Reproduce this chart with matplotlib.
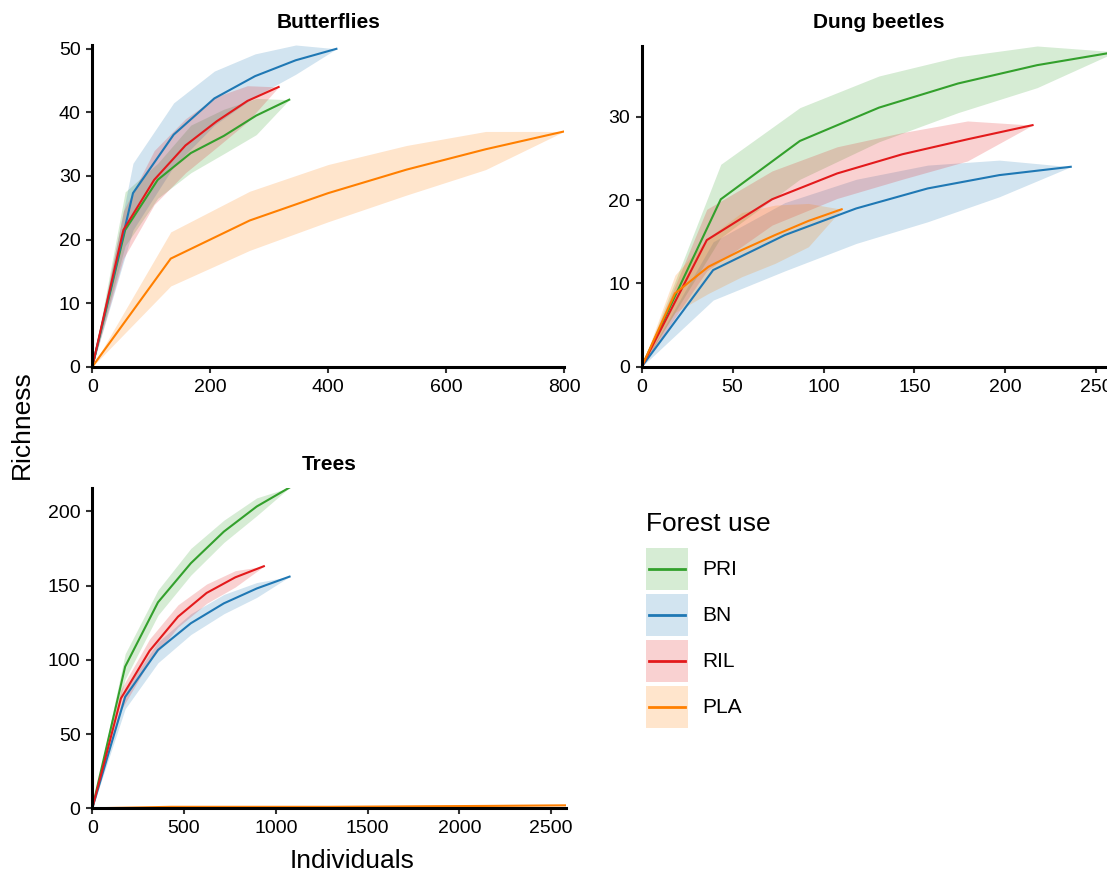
import matplotlib
matplotlib.use("Agg")
import matplotlib.pyplot as plt
from matplotlib.lines import Line2D
from matplotlib.patches import Rectangle

# Forest use classes and their colours
groups = ["PRI", "BN", "RIL", "PLA"]
colors = {"PRI": "#33A02C", "BN": "#1F78B4", "RIL": "#E31A1C", "PLA": "#FF7F00"}

# Butterflies: individuals, richness and 95% interval
bf_x = {
    "PRI": [0, 55.7, 111, 167, 223, 278, 334],
    "BN": [0, 69, 138, 207, 276, 345, 414],
    "RIL": [0, 52.7, 105, 158, 211, 263, 316],
    "PLA": [0, 133, 267, 400, 533, 667, 800],
}
bf_y = {
    "PRI": [0, 21.5, 29.4, 33.6, 36.3, 39.5, 42],
    "BN": [0, 27.3, 36.5, 42.2, 45.7, 48.2, 50],
    "RIL": [0, 21.5, 29.4, 34.8, 38.6, 41.8, 44],
    "PLA": [0, 17, 23, 27.3, 31, 34.2, 37],
}
bf_lo = {
    "PRI": [0, 19, 26.5, 30.5, 33.5, 36.5, 42],
    "BN": [0, 21.5, 31.5, 38, 42.5, 46, 50],
    "RIL": [0, 17, 25.5, 30.5, 34.5, 38.5, 44],
    "PLA": [0, 12.7, 18.3, 22.8, 27, 31, 37],
}
bf_hi = {
    "PRI": [0, 27.5, 32, 38, 40.5, 42.2, 42],
    "BN": [0, 32, 41.5, 46.5, 49.2, 50.6, 50],
    "RIL": [0, 24.5, 34, 39, 42.5, 44.2, 44],
    "PLA": [0, 21.2, 27.6, 31.8, 34.8, 37, 37],
}

# Dung beetles
db_x = {
    "PRI": [0, 43.5, 87, 130.5, 174, 217.5, 261],
    "BN": [0, 39.3, 78.7, 118, 157.3, 196.7, 236],
    "RIL": [0, 35.8, 71.7, 107.5, 143.3, 179.2, 215],
    "PLA": [0, 18.3, 36.7, 55, 73.3, 91.7, 110],
}
db_y = {
    "PRI": [0, 20.1, 27.1, 31.1, 34, 36.2, 37.8],
    "BN": [0, 11.6, 15.8, 19, 21.4, 23, 24],
    "RIL": [0, 15.2, 20.1, 23.2, 25.5, 27.3, 29],
    "PLA": [0, 8.8, 12, 14, 15.8, 17.5, 18.9],
}
db_lo = {
    "PRI": [0, 15.5, 22.5, 27, 30.5, 33.5, 37.8],
    "BN": [0, 8, 11.5, 14.8, 17.4, 20.4, 24],
    "RIL": [0, 11.5, 17, 20.2, 22.5, 24.7, 29],
    "PLA": [0, 6.5, 8.8, 10.8, 12.4, 14.4, 18.9],
}
db_hi = {
    "PRI": [0, 24.3, 31.1, 34.9, 37.2, 38.5, 37.8],
    "BN": [0, 15, 19.7, 22.5, 24.2, 24.8, 24],
    "RIL": [0, 18.9, 23.5, 26.4, 28.1, 29.5, 29],
    "PLA": [0, 11, 15.5, 18.5, 19.4, 19.6, 18.9],
}

# Trees
tr_x = {
    "PRI": [0, 179, 358, 537, 717, 896, 1075],
    "BN": [0, 179, 358, 537, 717, 896, 1075],
    "RIL": [0, 156, 312, 467, 623, 779, 935],
    "PLA": [0, 430, 860, 1290, 1720, 2150, 2580],
}
tr_y = {
    "PRI": [0, 95.4, 138.7, 165, 186.3, 203.2, 216],
    "BN": [0, 75, 106.6, 124.6, 138, 148, 156],
    "RIL": [0, 74, 106, 129, 145, 155.5, 163],
    "PLA": [0, 1, 1, 1, 1.3, 1.6, 2],
}
tr_lo = {
    "PRI": [0, 87, 130, 157, 179, 197, 216],
    "BN": [0, 67, 98, 117, 131, 142, 156],
    "RIL": [0, 66, 99, 122, 138, 149, 163],
    "PLA": [0, 0.5, 0.7, 0.8, 1, 1.2, 2],
}
tr_hi = {
    "PRI": [0, 104, 147, 175, 194, 209, 216],
    "BN": [0, 80, 112, 131, 144, 152, 156],
    "RIL": [0, 80, 114, 137, 151, 160, 163],
    "PLA": [0, 1.5, 1.5, 1.5, 2, 2.5, 2],
}

plt.rcParams["font.family"] = ["Liberation Sans", "DejaVu Sans"]

W, H = 1107, 877


class RibbonKey:
    # legend key: shaded box with a short line through its middle
    def legend_artist(self, legend, orig_handle, fontsize, handlebox):
        x0, y0 = -handlebox.xdescent, -handlebox.ydescent
        w, h = handlebox.width, handlebox.height
        tr = handlebox.get_transform()
        box = Rectangle((x0, y0), w, h, facecolor=orig_handle, alpha=0.2,
                        linewidth=0, transform=tr)
        line = Line2D([x0 + 0.07 * w, x0 + 0.93 * w], [y0 + h / 2, y0 + h / 2],
                      color=orig_handle, lw=2, transform=tr)
        handlebox.add_artist(box)
        handlebox.add_artist(line)
        return box


def px_axes(fig, left, top, right, bottom):
    # place an axes from pixel edges (origin top-left)
    return fig.add_axes([left / W, 1 - bottom / H, (right - left) / W, (bottom - top) / H])


def panel(ax, title, xs, ys, los, his, xlim, ylim, xticks, yticks, title_y):
    for g in groups:
        ax.fill_between(xs[g], los[g], his[g], color=colors[g], alpha=0.2, linewidth=0)
    for g in groups:
        ax.plot(xs[g], ys[g], color=colors[g], lw=1.5, solid_joinstyle="miter")
    ax.set_xlim(*xlim)
    ax.set_ylim(*ylim)
    ax.set_xticks(xticks)
    ax.set_yticks(yticks)
    for s in ["top", "right"]:
        ax.spines[s].set_visible(False)
    for s in ["left", "bottom"]:
        ax.spines[s].set_linewidth(2.2)
        ax.spines[s].set_color("black")
    ax.tick_params(direction="out", length=4.5, width=1.5, color="#333333",
                   labelsize=14, labelcolor="black", pad=4)
    # panel title centred above the axes
    pos = ax.get_position()
    fig.text(pos.x0 + pos.width / 2, 1 - title_y / H, title, fontsize=15,
             fontweight="bold", ha="center", va="center")


fig = plt.figure(figsize=(W / 100, H / 100), dpi=100)

ax1 = px_axes(fig, 92.3, 45, 564, 366.7)
panel(ax1, "Butterflies", bf_x, bf_y, bf_lo, bf_hi, (0, 800), (0, 50.6),
      range(0, 801, 200), range(0, 51, 10), 22)

ax2 = px_axes(fig, 641.7, 46, 641.7 + 261 * 1.818, 366.7)
panel(ax2, "Dung beetles", db_x, db_y, db_lo, db_hi, (0, 261), (0, 38.5),
      range(0, 251, 50), range(0, 31, 10), 22)

ax3 = px_axes(fig, 92.3, 487.5, 565.7, 808.3)
panel(ax3, "Trees", tr_x, tr_y, tr_lo, tr_hi, (0, 2580), (0, 216),
      range(0, 2501, 500), range(0, 201, 50), 465)

fig.text(22 / W, 1 - 425 / H, "Richness", rotation=90, fontsize=19,
         ha="center", va="center")
fig.text(352 / W, 1 - 861 / H, "Individuals", fontsize=19,
         ha="center", va="center")

# legend
fig.text(645.7 / W, 1 - 530.7 / H, "Forest use", fontsize=19,
         ha="left", va="baseline")
key_colors = [colors[g] for g in groups]
leg = fig.legend(key_colors, groups, handler_map={str: RibbonKey()},
                 loc="upper left", bbox_to_anchor=(645.7 / W, 1 - 547.7 / H),
                 frameon=False, fontsize=15, handlelength=2.016,
                 handleheight=2.725, labelspacing=0.19, handletextpad=0.7,
                 borderpad=0, borderaxespad=0)

fig.savefig("out.png", dpi=100)
